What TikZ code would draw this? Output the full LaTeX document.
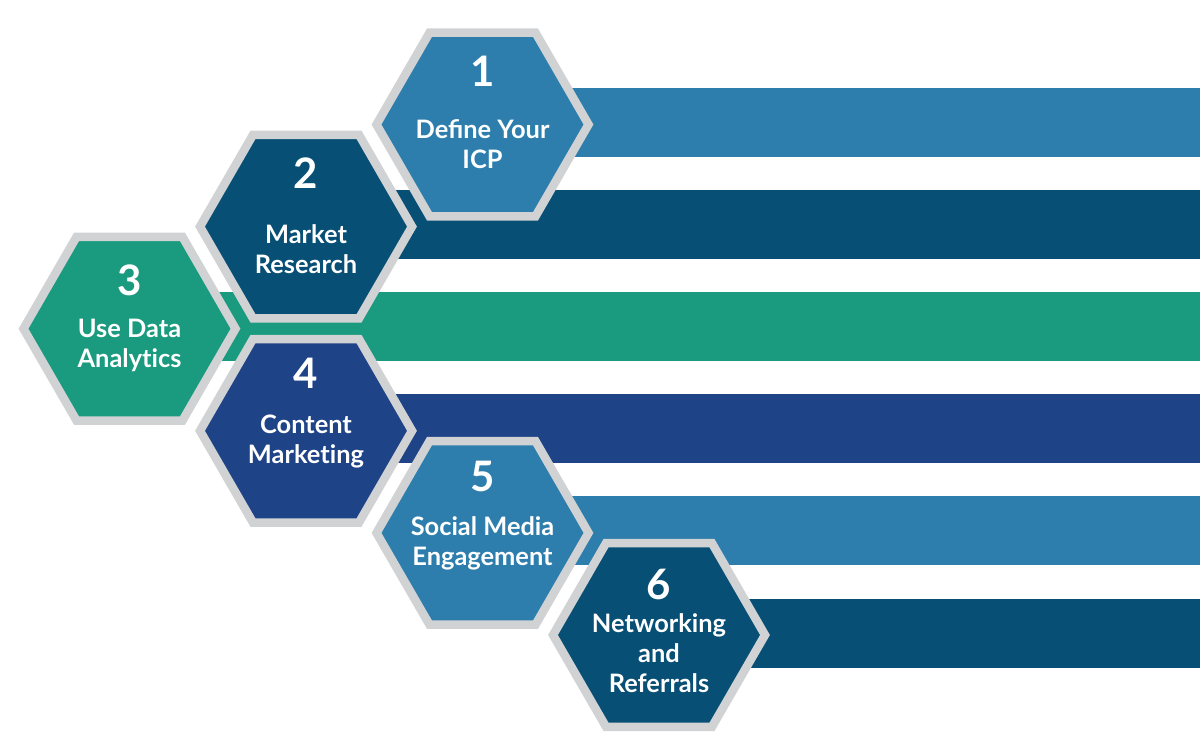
\documentclass[tikz,border=0pt]{standalone}
\usepackage{fontspec}
\setmainfont{Lato}
\usetikzlibrary{shapes.geometric,backgrounds}
\definecolor{stepblue}{HTML}{2D7EAD}
\definecolor{stepdark}{HTML}{084F76}
\definecolor{stepgreen}{HTML}{1A9A7F}
\definecolor{stepnavy}{HTML}{1F4387}
\definecolor{stepgrey}{HTML}{D1D2D4}

\begin{document}
\begin{tikzpicture}[x=0.5pt,y=-0.5pt,
	hexbox/.style={regular polygon,regular polygon sides=6,minimum size=106pt,inner sep=0pt,draw=stepgrey,line width=4.25pt,line join=miter},
	numtext/.style={text=white,font=\bfseries\fontsize{21pt}{21pt}\selectfont,anchor=base,inner sep=0pt},
	steptext/.style={text=white,font=\bfseries\fontsize{12.7pt}{15pt}\selectfont,align=center,anchor=base,inner sep=0pt}]
	\clip (0,0) rectangle (1200,750);
	% hexagons
	\node[hexbox,fill=stepblue] (hex1) at (482.5,124.5) {};
	\node[hexbox,fill=stepdark] (hex2) at (306,226.6) {};
	\node[hexbox,fill=stepgreen] (hex3) at (129.5,328.7) {};
	\node[hexbox,fill=stepnavy] (hex4) at (306,430.8) {};
	\node[hexbox,fill=stepblue] (hex5) at (482.5,532.9) {};
	\node[hexbox,fill=stepdark] (hex6) at (659,635) {};
	% bars behind
	\begin{scope}[on background layer]
	\fill[stepblue] (hex1.center) ++(0,-36.5) rectangle ++(800,69);
	\fill[stepdark] (hex2.center) ++(0,-36.5) rectangle ++(1000,69);
	\fill[stepgreen] (hex3.center) ++(0,-36.5) rectangle ++(1200,69);
	\fill[stepnavy] (hex4.center) ++(0,-36.5) rectangle ++(1000,69);
	\fill[stepblue] (hex5.center) ++(0,-36.5) rectangle ++(800,69);
	\fill[stepdark] (hex6.center) ++(0,-36.5) rectangle ++(600,69);
	\end{scope}
	% numbers
	\path (hex1.center) ++(0,-38.5) node[numtext] (num1) {1};
	\path (hex2.center) ++(0,-38.5) node[numtext] (num2) {2};
	\path (hex3.center) ++(0,-33.7) node[numtext] (num3) {3};
	\path (hex4.center) ++(0,-42) node[numtext] (num4) {4};
	\path (hex5.center) ++(0,-41) node[numtext] (num5) {5};
	\path (hex6.center) ++(0,-36) node[numtext] (num6) {6};
	% labels (base = last line)
	\path (hex1.center) ++(0,44) node[steptext] (lab1) {Define Your\\ICP};
	\path (hex2.center) ++(0,46.5) node[steptext] (lab2) {Market\\Research};
	\path (hex3.center) ++(0,38.5) node[steptext] (lab3) {Use Data\\Analyt\kern0pt ics};
	\path (hex4.center) ++(0,32.5) node[steptext] (lab4) {Content\\Market\kern0pt ing};
	\path (hex5.center) ++(0,33) node[steptext] (lab5) {Social Media\\Engagement};
	\path (hex6.center) ++(0,57) node[steptext] (lab6) {Networking\\and\\Referrals};
\end{tikzpicture}
\end{document}
